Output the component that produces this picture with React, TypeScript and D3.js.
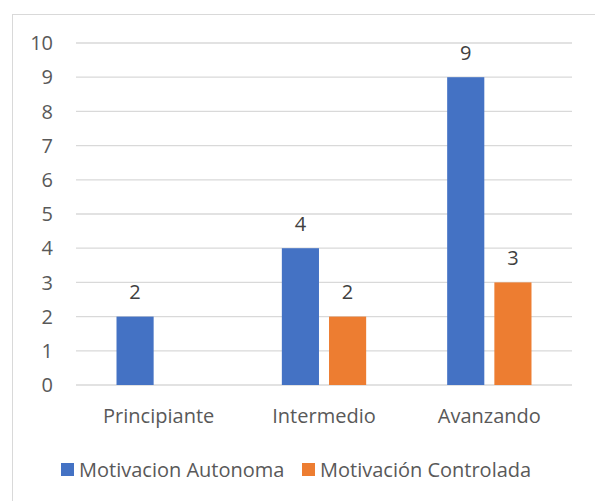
import * as d3 from "d3";
import React from "react";

const categories = ["Principiante", "Intermedio", "Avanzando"];
const seriesNames = ["Motivacion Autonoma", "Motivación Controlada"];
const autonoma = [2, 4, 9];
const controlada: (number | null)[] = [null, 2, 3];
const yTicks = [0, 1, 2, 3, 4, 5, 6, 7, 8, 9, 10];
const colors = ["#4472C4", "#ED7D31"];

export default function App() {
  const width = 595;
  const height = 501;
  const marginLeft = 76;
  const marginRight = 23;
  const marginTop = 43;
  const plotBottom = 385;
  const font = "'Open Sans', 'Noto Sans', sans-serif";
  const textColor = "#595959";
  const fs = 20;

  const x = d3
    .scaleBand<string>()
    .domain(categories)
    .range([marginLeft, width - marginRight])
    .paddingInner(0.49)
    .paddingOuter(0.245);
  const xInner = d3
    .scaleBand<string>()
    .domain(seriesNames)
    .range([0, x.bandwidth()])
    .paddingInner(0.213);
  const y = d3.scaleLinear([0, 10], [plotBottom, marginTop]);

  const series = [autonoma, controlada];

  return (
    <svg
      width={width}
      height={height}
      style={{ position: "absolute", left: 0, top: 0, background: "#fff" }}
      fontFamily={font}
    >
      {/* chart border (only top and left fall inside the picture) */}
      <rect x={12.5} y={14.5} width={700} height={600} fill="#fff" stroke="#d9d9d9" strokeWidth={1} />

      {/* grid + y labels */}
      <g>
        {yTicks.map((t) => (
          <g key={t} transform={`translate(0,${y(t)})`}>
            <line x1={marginLeft} x2={width - marginRight} stroke="#d9d9d9" strokeWidth={1.3} />
            <text x={53} dy="0.36em" textAnchor="end" fontSize={fs} fill={textColor}>
              {t}
            </text>
          </g>
        ))}
      </g>

      {/* bars */}
      {series.map((vals, si) => (
        <g key={seriesNames[si]} fill={colors[si]}>
          {categories.map((c, ci) => {
            const v = vals[ci];
            if (v == null) return null;
            const bx = (x(c) ?? 0) + (xInner(seriesNames[si]) ?? 0);
            return (
              <g key={c}>
                <rect x={bx} y={y(v)} width={xInner.bandwidth()} height={y(0) - y(v)} />
                <text
                  x={bx + xInner.bandwidth() / 2}
                  y={y(v) - 17.5}
                  textAnchor="middle"
                  fontSize={fs}
                  fill="#404040"
                >
                  {v}
                </text>
              </g>
            );
          })}
        </g>
      ))}

      {/* x labels */}
      {categories.map((c) => (
        <text
          key={c}
          x={(x(c) ?? 0) + x.bandwidth() / 2}
          y={423}
          textAnchor="middle"
          fontSize={fs}
          fill={textColor}
        >
          {c}
        </text>
      ))}

      {/* legend */}
      <g fontSize={fs} fill={textColor}>
        {seriesNames.map((n, i) => {
          const lx = i === 0 ? 61 : 302;
          return (
            <g key={n}>
              <rect x={lx} y={463} width={13} height={13} fill={colors[i]} />
              <text x={lx + 18} y={477}>
                {n}
              </text>
            </g>
          );
        })}
      </g>
    </svg>
  );
}
